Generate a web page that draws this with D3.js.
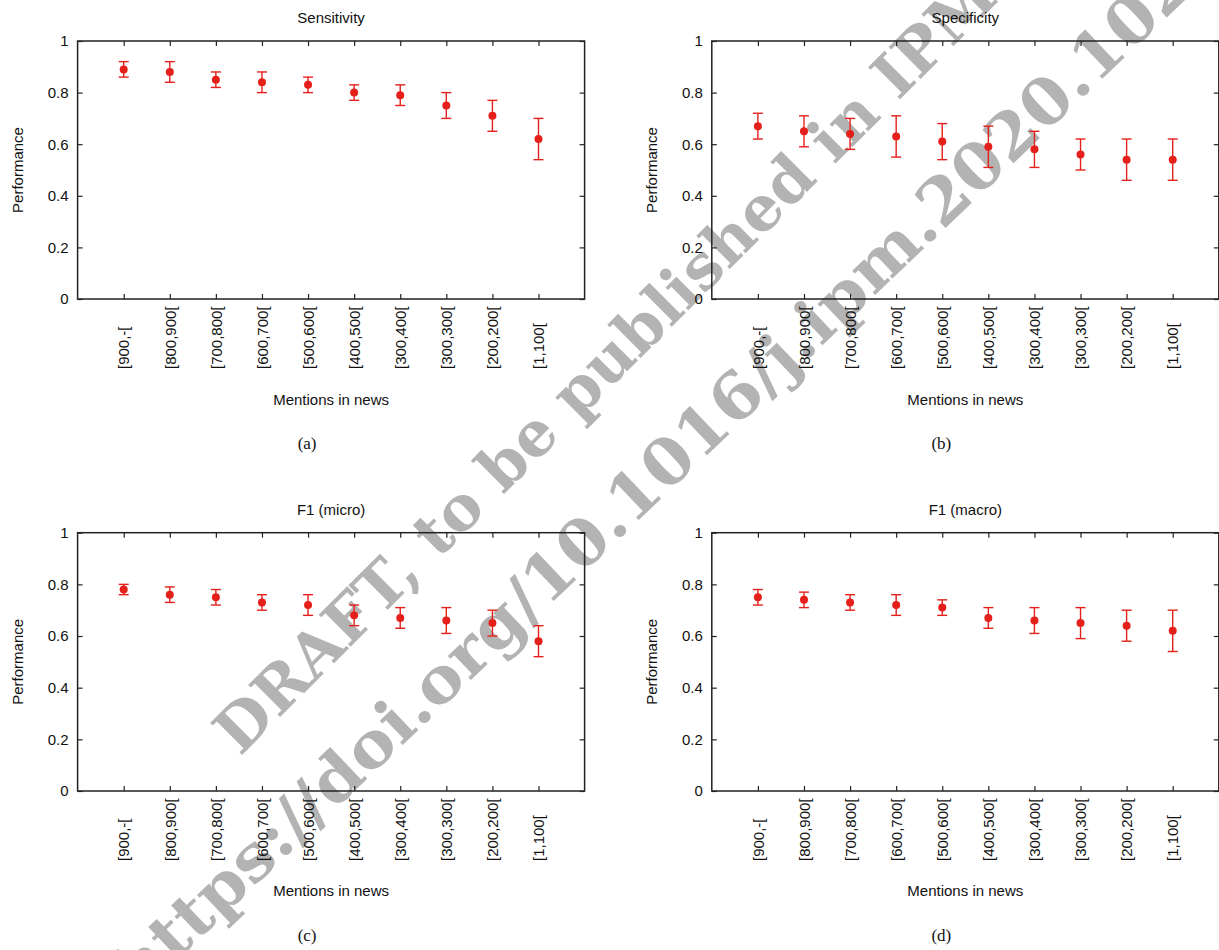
<!DOCTYPE html>
<html>
<head>
<meta charset="utf-8">
<script src="https://cdn.jsdelivr.net/npm/d3@7"></script>
<style>
	body { margin: 0; background: #fff; }
	svg text { font-family: 'Liberation Sans', Arial, sans-serif; fill: #111; }
	.tick line { stroke: #222; stroke-width: 1.2; }
	svg text.caption { font-family: 'Liberation Serif', 'DejaVu Serif', serif; }
	svg text.watermark { font-family: 'DejaVu Serif', serif; font-weight: bold; fill: #b3b3b3; }
</style>
</head>
<body>
<svg width="1219" height="950"></svg>
<script>
const categories = ['[900,-[', '[800,900[', '[700,800[', '[600,700[', '[500,600[',
	'[400,500[', '[300,400[', '[300,300[', '[200,200[', '[1,100['];
const yTicks = [0, 0.2, 0.4, 0.6, 0.8, 1];

const sensitivity     = [0.89, 0.88, 0.85, 0.84, 0.83, 0.80, 0.79, 0.75, 0.71, 0.62];
const sensitivityLow  = [0.86, 0.84, 0.82, 0.80, 0.80, 0.77, 0.75, 0.70, 0.65, 0.54];
const sensitivityHigh = [0.92, 0.92, 0.88, 0.88, 0.86, 0.83, 0.83, 0.80, 0.77, 0.70];

const specificity     = [0.67, 0.65, 0.64, 0.63, 0.61, 0.59, 0.58, 0.56, 0.54, 0.54];
const specificityLow  = [0.62, 0.59, 0.58, 0.55, 0.54, 0.51, 0.51, 0.50, 0.46, 0.46];
const specificityHigh = [0.72, 0.71, 0.70, 0.71, 0.68, 0.67, 0.65, 0.62, 0.62, 0.62];

const f1Micro     = [0.78, 0.76, 0.75, 0.73, 0.72, 0.68, 0.67, 0.66, 0.65, 0.58];
const f1MicroLow  = [0.76, 0.73, 0.72, 0.70, 0.68, 0.64, 0.63, 0.61, 0.60, 0.52];
const f1MicroHigh = [0.80, 0.79, 0.78, 0.76, 0.76, 0.72, 0.71, 0.71, 0.70, 0.64];

const f1Macro     = [0.75, 0.74, 0.73, 0.72, 0.71, 0.67, 0.66, 0.65, 0.64, 0.62];
const f1MacroLow  = [0.72, 0.71, 0.70, 0.68, 0.68, 0.63, 0.61, 0.59, 0.58, 0.54];
const f1MacroHigh = [0.78, 0.77, 0.76, 0.76, 0.74, 0.71, 0.71, 0.71, 0.70, 0.70];

const watermarkLines = ['DRAFT, to be published in IPM', 'https://doi.org/10.1016/j.ipm.2020.102'];

const svg = d3.select('svg');
const red = '#e5201b';

// watermark sits under the plots
const wmSpecs = [
	{x: 240, y: 757, angle: -44.9, size: 62, len: 1073},
	{x: 138, y: 997, angle: -43.6, size: 64, len: 1463}
];
wmSpecs.forEach((s, i) => {
	svg.append('text')
		.attr('class', 'watermark')
		.attr('transform', `translate(${s.x}, ${s.y}) rotate(${s.angle})`)
		.attr('font-size', s.size)
		.attr('textLength', s.len)
		.attr('lengthAdjust', 'spacingAndGlyphs')
		.text(watermarkLines[i]);
});

const panels = [
	{title: 'Sensitivity', caption: '(a)', values: sensitivity, low: sensitivityLow, high: sensitivityHigh,
		left: 77.6, top: 41, width: 507, height: 258},
	{title: 'Specificity', caption: '(b)', values: specificity, low: specificityLow, high: specificityHigh,
		left: 711.8, top: 41, width: 507, height: 258},
	{title: 'F1 (micro)', caption: '(c)', values: f1Micro, low: f1MicroLow, high: f1MicroHigh,
		left: 77.6, top: 532.7, width: 507, height: 258.3},
	{title: 'F1 (macro)', caption: '(d)', values: f1Macro, low: f1MacroLow, high: f1MacroHigh,
		left: 711.8, top: 532.7, width: 507, height: 258.3}
];

const drawPanel = p => {
	const innerWidth = p.width;
	const innerHeight = p.height;
	const data = categories.map((c, i) => ({cat: c, v: p.values[i], lo: p.low[i], hi: p.high[i]}));

	const xScale = d3.scalePoint()
		.domain(categories)
		.range([0, innerWidth])
		.padding(1);

	const yScale = d3.scaleLinear()
		.domain([0, 1])
		.range([innerHeight, 0]);

	const g = svg.append('g')
		.attr('transform', `translate(${p.left}, ${p.top})`);

	// bottom axis with rotated labels
	const xAxisG = g.append('g')
		.attr('transform', `translate(0, ${innerHeight})`)
		.call(d3.axisBottom(xScale).tickSizeInner(-5).tickSizeOuter(0));
	xAxisG.select('.domain').remove();
	xAxisG.selectAll('text')
		.attr('transform', 'rotate(-90)')
		.attr('x', -70)
		.attr('y', 0)
		.attr('dy', '0.35em')
		.attr('text-anchor', 'start')
		.attr('font-size', 15)
		.style('fill', '#111');

	// mirrored top ticks
	const topG = g.append('g')
		.call(d3.axisTop(xScale).tickSizeInner(-5).tickSizeOuter(0).tickFormat(''));
	topG.select('.domain').remove();

	const yAxisG = g.append('g')
		.call(d3.axisLeft(yScale).tickValues(yTicks).tickFormat(d3.format('~g'))
			.tickSizeInner(-5).tickSizeOuter(0).tickPadding(9));
	yAxisG.select('.domain').remove();
	yAxisG.selectAll('text')
		.attr('font-size', 15)
		.style('fill', '#111');

	const rightG = g.append('g')
		.attr('transform', `translate(${innerWidth}, 0)`)
		.call(d3.axisRight(yScale).tickValues(yTicks).tickSizeInner(-5).tickSizeOuter(0).tickFormat(''));
	rightG.select('.domain').remove();

	g.append('rect')
		.attr('width', innerWidth)
		.attr('height', innerHeight)
		.attr('fill', 'none')
		.attr('stroke', '#222')
		.attr('stroke-width', 1.5);

	// error bars
	const bars = g.selectAll('.err').data(data)
		.enter().append('g')
			.attr('class', 'err')
			.attr('stroke', red)
			.attr('stroke-width', 1.4);
	bars.append('line')
		.attr('x1', d => xScale(d.cat)).attr('x2', d => xScale(d.cat))
		.attr('y1', d => yScale(d.lo)).attr('y2', d => yScale(d.hi));
	bars.append('line')
		.attr('x1', d => xScale(d.cat) - 5).attr('x2', d => xScale(d.cat) + 5)
		.attr('y1', d => yScale(d.lo)).attr('y2', d => yScale(d.lo));
	bars.append('line')
		.attr('x1', d => xScale(d.cat) - 5).attr('x2', d => xScale(d.cat) + 5)
		.attr('y1', d => yScale(d.hi)).attr('y2', d => yScale(d.hi));

	g.selectAll('circle').data(data)
		.enter().append('circle')
			.attr('cx', d => xScale(d.cat))
			.attr('cy', d => yScale(d.v))
			.attr('r', 4)
			.attr('fill', red);

	g.append('text')
		.attr('x', innerWidth / 2)
		.attr('y', -18)
		.attr('text-anchor', 'middle')
		.attr('font-size', 15)
		.text(p.title);

	g.append('text')
		.attr('transform', `translate(-54.5, ${innerHeight / 2}) rotate(-90)`)
		.attr('text-anchor', 'middle')
		.attr('font-size', 15)
		.text('Performance');

	g.append('text')
		.attr('x', innerWidth / 2)
		.attr('y', innerHeight + 105.5)
		.attr('text-anchor', 'middle')
		.attr('font-size', 15)
		.text('Mentions in news');

	g.append('text')
		.attr('class', 'caption')
		.attr('x', innerWidth / 2 - 24)
		.attr('y', innerHeight + 150)
		.attr('text-anchor', 'middle')
		.attr('font-size', 17)
		.text(p.caption);
};

panels.forEach(drawPanel);
</script>
</body>
</html>
